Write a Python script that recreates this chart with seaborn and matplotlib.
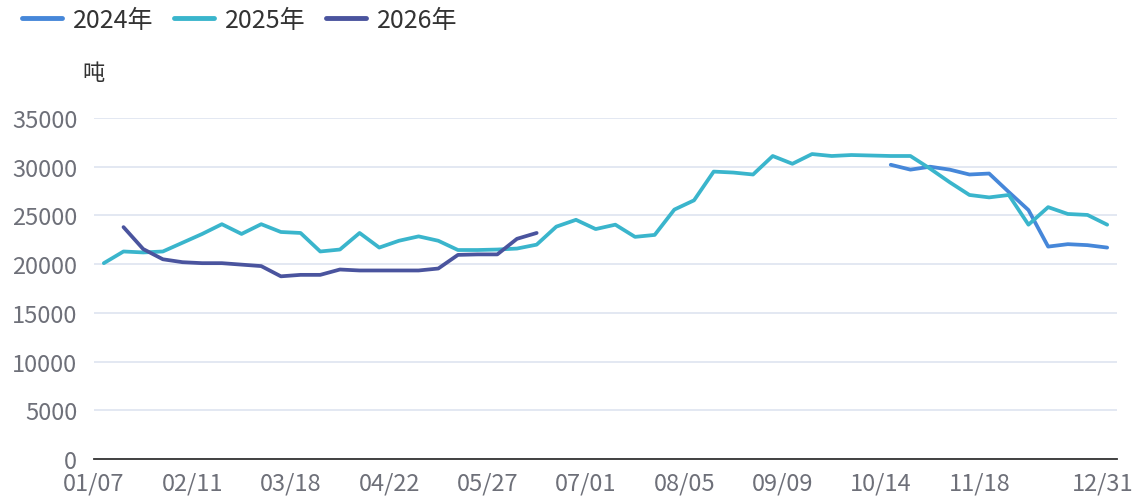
import numpy as np
import pandas as pd
import matplotlib
matplotlib.use("Agg")
import matplotlib.pyplot as plt
import matplotlib.transforms as mtransforms
import seaborn as sns

# weekly categories (labels shown every 5 weeks, last one is year end)
tick_pos = [0, 5, 10, 15, 20, 25, 30, 35, 40, 45, 50, 52]
tick_labels = ["01/07", "02/11", "03/18", "04/22", "05/27", "07/01",
               "08/05", "09/09", "10/14", "11/18", "", "12/31"]

# values in tonnes, one per week, starting at the given week index
start_2024 = 40
vals_2024 = [30200, 29700, 30000, 29700, 29200, 29300, 27400, 25550,
             21800, 22050, 21950, 21700]

start_2025 = 0
vals_2025 = [20100, 21300, 21200, 21300, 22200, 23100, 24100, 23100, 24100,
             23300, 23200, 21300, 21500, 23200, 21700, 22400, 22850, 22400,
             21450, 21450, 21500, 21600, 22000, 23850, 24550, 23600, 24050,
             22800, 23000, 25600, 26550, 29500, 29400, 29200, 31100, 30300,
             31300, 31100, 31200, 31150, 31100, 31100, 29800, 28400, 27100,
             26850, 27100, 24050, 25850, 25150, 25050, 24050]

start_2026 = 1
vals_2026 = [23800, 21550, 20500, 20200, 20100, 20100, 19950, 19800, 18750,
             18900, 18900, 19450, 19350, 19350, 19350, 19350, 19550, 20950,
             21000, 21000, 22600, 23200]

series = {"2024年": (start_2024, vals_2024),
          "2025年": (start_2025, vals_2025),
          "2026年": (start_2026, vals_2026)}
colors = {"2024年": "#4687d9", "2025年": "#3ab5cc", "2026年": "#4a549e"}

rows = []
for name, (start, vals) in series.items():
    for i, v in enumerate(vals):
        rows.append({"week": start + i + 0.5, "value": v, "year": name})
df = pd.DataFrame(rows)

sns.set_style("white")
plt.rcParams["font.family"] = ["Noto Sans CJK SC", "DejaVu Sans"]

fig = plt.figure(figsize=(11.41, 5.02), dpi=100)
ax = fig.add_axes([94 / 1141, 42 / 502, 1023 / 1141, 341 / 502])

sns.lineplot(data=df, x="week", y="value", hue="year", palette=colors,
             linewidth=2.7, ax=ax, legend=True)

ax.set_xlim(0, 52)
ax.set_ylim(0, 35000)
ax.set_yticks(range(0, 35001, 5000))
ax.set_xticks(tick_pos)
ax.set_xticklabels(tick_labels)
ax.set_xlabel("")
ax.set_ylabel("")

ax.grid(axis="y", color="#e0e6f1", linewidth=1.3)
ax.set_axisbelow(True)
for side in ["top", "right", "left"]:
    ax.spines[side].set_visible(False)
ax.spines["bottom"].set_color("#333333")
ax.spines["bottom"].set_linewidth(1.3)

ax.tick_params(axis="y", length=0, pad=12, labelsize=17, labelcolor="#6e7079")
ax.tick_params(axis="x", length=5, width=1.3, color="#333333", pad=4,
               labelsize=17, labelcolor="#6e7079", direction="out")

# keep the year-end label inside the canvas
last = ax.get_xticklabels()[-1]
last.set_horizontalalignment("right")
last.set_transform(last.get_transform() +
                   mtransforms.ScaledTranslation(0.17, 0, fig.dpi_scale_trans))

handles, labels = ax.get_legend_handles_labels()
for h in handles:
    h.set_linewidth(3.5)
leg = ax.legend(handles, labels, loc="upper left",
                bbox_to_anchor=(22 / 1141, 1 - 8 / 502),
                bbox_transform=fig.transFigure, ncol=3, frameon=False,
                fontsize=18, handlelength=1.6, handletextpad=0.45,
                columnspacing=0.8, borderpad=0, borderaxespad=0)
for t in leg.get_texts():
    t.set_color("#333333")

fig.text(94 / 1141, 1 - 73 / 502, "吨", ha="center", va="center",
         fontsize=16, color="#333333")

fig.savefig("out.png", dpi=100)
